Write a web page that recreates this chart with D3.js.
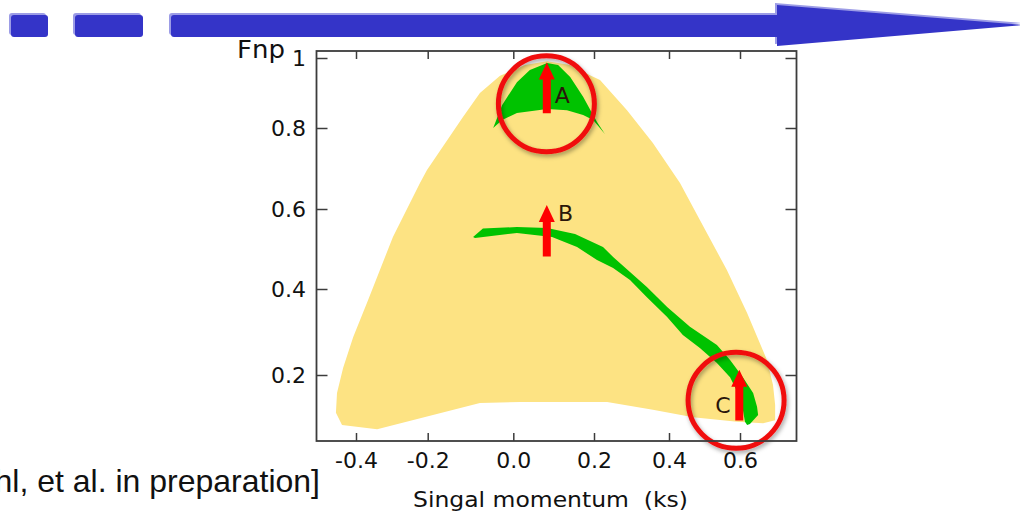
<!DOCTYPE html>
<html>
<head>
<meta charset="utf-8">
<script src="https://cdn.jsdelivr.net/npm/d3@7"></script>
<style>
  html, body { margin: 0; padding: 0; background: #ffffff; overflow: hidden; }
  svg { display: block; }
  text { white-space: pre; }
</style>
</head>
<body>
<svg id="chart" width="1020" height="516"></svg>
<script>
// ---- axis ticks ----
const xTicks = [-0.4, -0.2, 0.0, 0.2, 0.4, 0.6];
const xTickLabels = ["-0.4", "-0.2", "0.0", "0.2", "0.4", "0.6"];
const yTicks = [0.2, 0.4, 0.6, 0.8, 1.0];
const yTickLabels = ["0.2", "0.4", "0.6", "0.8", "1"];

// ---- accessible region: [signal momentum, Fnp] ----
const regionAll = [
  [-0.453, 0.158], [-0.436, 0.216], [-0.408, 0.288], [-0.3665, 0.374], [-0.297, 0.530],
  [-0.2215, 0.664], [-0.202, 0.696], [-0.118, 0.831], [-0.078, 0.900],
  [-0.031, 0.949], [0.029, 0.980], [0.084, 0.991], [0.141, 0.980], [0.190, 0.951],
  [0.216, 0.937], [0.288, 0.851], [0.357, 0.763], [0.431, 0.664], [0.487, 0.5725],
  [0.563, 0.4475], [0.620, 0.344], [0.676, 0.235], [0.693, 0.177], [0.699, 0.130],
  [0.699, 0.095], [0.665, 0.088], [0.592, 0.091], [0.468, 0.102], [0.357, 0.119],
  [0.235, 0.137], [0.017, 0.137], [-0.078, 0.135], [-0.341, 0.074], [-0.439, 0.084],
  [-0.456, 0.112]
];

// ---- solution family near the top (A) ----
const regionA = [
  [-0.047, 0.800], [-0.026, 0.866], [0.009, 0.931], [0.041, 0.966], [0.084, 0.986],
  [0.111, 0.980], [0.141, 0.946], [0.173, 0.889], [0.195, 0.843], [0.208, 0.817],
  [0.229, 0.785], [0.198, 0.823], [0.173, 0.837], [0.133, 0.851], [0.084, 0.854],
  [0.009, 0.843], [-0.026, 0.823]
];

// ---- solution band running from B down to C ----
const bandUpper = [
  [-0.094, 0.530], [-0.071, 0.551], [0.009, 0.555], [0.084, 0.5525], [0.153, 0.5375],
  [0.224, 0.505], [0.251, 0.480], [0.296, 0.4425], [0.341, 0.405], [0.395, 0.358],
  [0.459, 0.312], [0.535, 0.270], [0.572, 0.235], [0.608, 0.195], [0.637, 0.158],
  [0.648, 0.126], [0.651, 0.107], [0.628, 0.086], [0.620, 0.084]
];
const bandLower = [
  [0.614, 0.091], [0.608, 0.119], [0.594, 0.158], [0.572, 0.195], [0.535, 0.228],
  [0.487, 0.263], [0.439, 0.293], [0.395, 0.335], [0.341, 0.381], [0.296, 0.4225],
  [0.251, 0.4525], [0.208, 0.4725], [0.158, 0.505], [0.096, 0.530], [0.009, 0.540],
  [-0.0895, 0.5275]
];

// ---- marked working points ----
const pointNames = ["A", "B", "C"];
const pointX = [0.083, 0.083, 0.598];
const arrowBase = [0.842, 0.481, 0.094];
const arrowTip = [0.987, 0.610, 0.212];
const labelX = [0.103, 0.111, 0.530];
const labelY = [0.871, 0.571, 0.112];

// highlighted points (circled)
const circleX = [0.082, 0.589];
const circleY = [0.869, 0.141];

// ---- layout ----
const svg = d3.select("#chart");
const frame = { left: 316.5, right: 796.5, top: 51, bottom: 441 };

const x = d3.scaleLinear().domain(xTicks).range([356, 427.7, 513.3, 594, 669, 740]);
const y = d3.scaleLinear().domain(yTicks).range([375, 289, 209, 128, 58]);

const defs = svg.append("defs");
const shadow = defs.append("filter").attr("id", "ringShadow")
  .attr("x", "-30%").attr("y", "-30%").attr("width", "160%").attr("height", "160%");
shadow.append("feDropShadow")
  .attr("dx", 1.5).attr("dy", 2.5).attr("stdDeviation", 2.2)
  .attr("flood-color", "#000").attr("flood-opacity", 0.35);

const soft = defs.append("filter").attr("id", "soft")
  .attr("x", "-5%").attr("y", "-30%").attr("width", "110%").attr("height", "160%");
soft.append("feGaussianBlur").attr("stdDeviation", 0.6);

// ---- progress arrow across the top ----
const topArrow = svg.append("g");
const blueDark = "#3434c8";
const blueLight = "#9c9ce6";
function drawTopArrow(g, color, dx, dy) {
  g.append("rect").attr("x", 11 + dx).attr("y", 15 + dy).attr("width", 37).attr("height", 22)
    .attr("rx", 3).attr("fill", color);
  g.append("rect").attr("x", 75 + dx).attr("y", 15 + dy).attr("width", 68).attr("height", 22)
    .attr("rx", 3).attr("fill", color);
  g.append("rect").attr("x", 171 + dx).attr("y", 15 + dy).attr("width", 612).attr("height", 22)
    .attr("rx", 3).attr("fill", color);
  g.append("path")
    .attr("d", `M${777 + dx},${5 + dy} L${1024 + dx},${25 + dy} L${777 + dx},${46 + dy} Z`)
    .attr("fill", color);
}
drawTopArrow(topArrow.append("g").attr("filter", "url(#soft)"), blueLight, -2, -2);
drawTopArrow(topArrow.append("g"), blueDark, 0, 0);

// ---- plot contents ----
const plot = svg.append("g");
const line = d3.line().x(d => x(d[0])).y(d => y(d[1])).curve(d3.curveLinearClosed);

plot.append("path").datum(regionAll).attr("d", line).attr("fill", "#fde383");
plot.append("path").datum(regionA).attr("d", line).attr("fill", "#00c200");
plot.append("path").datum(bandUpper.concat(bandLower)).attr("d", line).attr("fill", "#00c200");

// red arrows
const arrowG = plot.append("g");
pointNames.forEach((name, i) => {
  const cx = x(pointX[i]), yb = y(arrowBase[i]), yt = y(arrowTip[i]);
  const hw = 4, hh = 8, hl = 17;
  arrowG.append("path")
    .attr("d", `M${cx - hw},${yb} L${cx - hw},${yt + hl} L${cx - hh},${yt + hl} L${cx},${yt} ` +
               `L${cx + hh},${yt + hl} L${cx + hw},${yt + hl} L${cx + hw},${yb} Z`)
    .attr("fill", "#ff0000");
});

// labels
pointNames.forEach((name, i) => {
  plot.append("text")
    .attr("x", x(labelX[i])).attr("y", y(labelY[i]))
    .attr("font-family", "DejaVu Sans, sans-serif")
    .attr("font-size", 22)
    .attr("fill", "#2a160a")
    .text(name);
});

// circles
circleX.forEach((cx, i) => {
  plot.append("circle")
    .attr("cx", x(cx)).attr("cy", y(circleY[i])).attr("r", 48)
    .attr("fill", "none").attr("stroke", "#f01010").attr("stroke-width", 5)
    .attr("filter", "url(#ringShadow)");
});

// ---- axes ----
const axisFont = "DejaVu Sans, sans-serif";
const axisColor = "#3c3c3c";

const gBottom = svg.append("g").attr("transform", `translate(0,${frame.bottom})`)
  .call(d3.axisBottom(x).tickValues(xTicks).tickFormat((d, i) => xTickLabels[i])
    .tickSizeInner(-8).tickSizeOuter(0).tickPadding(11));
const gTop = svg.append("g").attr("transform", `translate(0,${frame.top})`)
  .call(d3.axisTop(x).tickValues(xTicks).tickFormat("").tickSizeInner(-8).tickSizeOuter(0));
const gLeft = svg.append("g").attr("transform", `translate(${frame.left},0)`)
  .call(d3.axisLeft(y).tickValues(yTicks).tickFormat((d, i) => yTickLabels[i])
    .tickSizeInner(-11).tickSizeOuter(0).tickPadding(10.5));
const gRight = svg.append("g").attr("transform", `translate(${frame.right},0)`)
  .call(d3.axisRight(y).tickValues(yTicks).tickFormat("").tickSizeInner(-11).tickSizeOuter(0));

[gBottom, gTop, gLeft, gRight].forEach(g => {
  g.select(".domain").remove();
  g.selectAll(".tick line").attr("stroke", axisColor).attr("stroke-width", 1.5);
  g.selectAll(".tick text").attr("font-family", axisFont).attr("font-size", 22).attr("fill", "#111");
});

svg.append("rect")
  .attr("x", frame.left).attr("y", frame.top)
  .attr("width", frame.right - frame.left).attr("height", frame.bottom - frame.top)
  .attr("fill", "none").attr("stroke", axisColor).attr("stroke-width", 1.8);

// axis titles
svg.append("text")
  .attr("x", 237).attr("y", 58)
  .attr("font-family", axisFont).attr("font-size", 25).attr("fill", "#111")
  .attr("textLength", 48).attr("lengthAdjust", "spacingAndGlyphs")
  .text("Fnp");

svg.append("text")
  .attr("x", 413).attr("y", 507)
  .attr("font-family", axisFont).attr("font-size", 21).attr("fill", "#111")
  .attr("textLength", 275).attr("lengthAdjust", "spacingAndGlyphs")
  .text("Singal momentum  (ks)");

// citation (its start runs off the left edge)
svg.append("text")
  .attr("x", 320).attr("y", 492)
  .attr("text-anchor", "end")
  .attr("font-family", "Liberation Sans, Arial, sans-serif").attr("font-size", 32).attr("fill", "#111")
  .text("hl, et al. in preparation]");
</script>
</body>
</html>
